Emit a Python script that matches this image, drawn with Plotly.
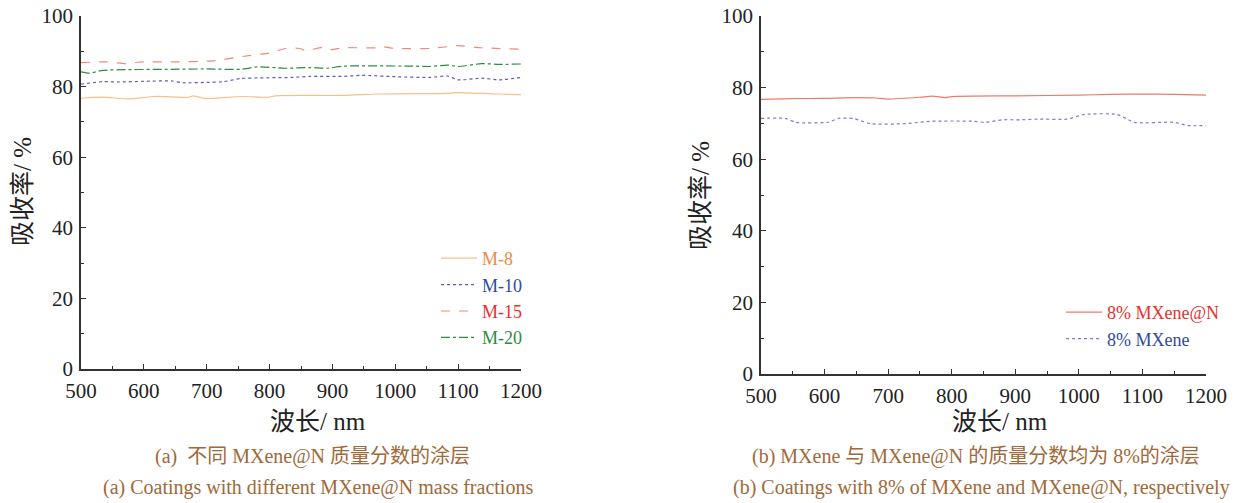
import plotly.graph_objects as go

# ---------- data: panel (a) ----------
wl_m8 = [500, 535, 578, 617, 672, 678, 699, 755, 798, 809, 918, 973, 1083, 1100, 1165, 1200]
m8 = [76.7, 77.0, 76.5, 77.2, 77.0, 77.4, 76.6, 77.2, 77.0, 77.4, 77.5, 77.9, 78.1, 78.3, 77.9, 77.7]

wl_m10 = [500, 535, 562, 600, 644, 661, 700, 727, 755, 836, 864, 918, 946, 1000, 1055, 1083, 1100, 1137, 1165, 1200]
m10 = [80.7, 81.4, 81.3, 81.5, 81.6, 81.1, 81.2, 81.4, 82.3, 82.6, 82.9, 82.9, 83.2, 82.8, 82.6, 83.0, 81.9, 82.4, 81.9, 82.6]

wl_m15 = [500, 540, 578, 589, 650, 710, 760, 800, 825, 848, 858, 884, 897, 918, 973, 979, 1000, 1055, 1083, 1100, 1137, 1200]
m15 = [86.8, 87.0, 86.4, 86.9, 87.0, 87.3, 88.6, 89.5, 90.8, 90.8, 90.2, 91.1, 90.5, 91.0, 91.0, 91.3, 90.8, 90.8, 91.3, 91.6, 91.0, 90.6]

wl_m20 = [500, 513, 535, 645, 699, 755, 781, 825, 864, 891, 918, 1028, 1055, 1083, 1100, 1137, 1165, 1200]
m20 = [84.2, 83.8, 84.6, 84.9, 85.0, 84.9, 85.6, 85.2, 85.4, 85.2, 85.8, 85.8, 85.7, 86.1, 85.7, 86.5, 86.3, 86.4]

# ---------- data: panel (b) ----------
wl_mn = [500, 550, 600, 650, 680, 700, 750, 770, 790, 800, 900, 1000, 1050, 1100, 1150, 1200]
mxene_n = [76.7, 76.9, 77.0, 77.2, 77.1, 76.8, 77.3, 77.6, 77.2, 77.5, 77.7, 77.9, 78.1, 78.2, 78.1, 77.9]

wl_mx = [500, 538, 555, 605, 622, 645, 673, 723, 768, 835, 852, 880, 908, 936, 981, 1009, 1060, 1088, 1150, 1172, 1200]
mxene = [71.4, 71.4, 70.3, 70.3, 71.4, 71.4, 69.9, 69.9, 70.6, 70.6, 70.3, 71.0, 71.0, 71.2, 71.2, 72.5, 72.5, 70.3, 70.3, 69.4, 69.4]

x_ticks = [500, 600, 700, 800, 900, 1000, 1100, 1200]
y_ticks = [0, 20, 40, 60, 80, 100]

SERIF = "Liberation Serif, Noto Sans CJK SC, serif"
BROWN = "#a0693a"

fig = go.Figure()

def add(x, y, name, color, dash, xa, ya, legend, label_color):
    fig.add_trace(go.Scatter(
        x=x, y=y, mode="lines", xaxis=xa, yaxis=ya,
        name=f"<span style='color:{label_color}'>{name}</span>",
        line=dict(color=color, width=1.2, dash=dash, shape="spline", smoothing=0.6),
        legend=legend, hoverinfo="skip"))

add(wl_m8, m8, "M-8", "#f7c08a", "solid", "x", "y", "legend", "#f08a3c")
add(wl_m10, m10, "M-10", "#5a5ad8", "dot", "x", "y", "legend", "#2f4aa0")
add(wl_m15, m15, "M-15", "#f08a78", "dash", "x", "y", "legend", "#e8302c")
add(wl_m20, m20, "M-20", "#2e8b40", "dashdot", "x", "y", "legend", "#2e8b40")

add(wl_mn, mxene_n, "8% MXene@N", "#f07a6a", "solid", "x2", "y2", "legend2", "#e8302c")
add(wl_mx, mxene, "8% MXene", "#7a7ae0", "dot", "x2", "y2", "legend2", "#2f4aa0")

axis_common = dict(
    showline=True, linecolor="#333333", linewidth=1.5, mirror=False,
    ticks="inside", ticklen=5, tickwidth=1.3, tickcolor="#333333",
    showgrid=False, zeroline=False, automargin=False,
    tickfont=dict(family=SERIF, size=21, color="#222222"),
)
minor_x = dict(dtick=50, ticks="inside", ticklen=3, tickwidth=1.2, tickcolor="#333333")
minor_y = dict(dtick=10, ticks="inside", ticklen=3, tickwidth=1.2, tickcolor="#333333")

fig.update_layout(
    width=1239, height=503,
    margin=dict(l=0, r=0, t=0, b=0, autoexpand=False),
    paper_bgcolor="white", plot_bgcolor="white",
    showlegend=True,
    xaxis=dict(domain=[81/1239, 521/1239], range=[500, 1200], tickvals=x_ticks,
               minor=minor_x, anchor="y", ticklabelstandoff=2, **axis_common),
    yaxis=dict(domain=[1-369/503, 1-16/503], range=[0, 100], tickvals=y_ticks,
               minor=minor_y, anchor="x", ticklabelstandoff=2, **axis_common),
    xaxis2=dict(domain=[761/1239, 1206/1239], range=[500, 1200], tickvals=x_ticks,
                minor=minor_x, anchor="y2", ticklabelstandoff=2, **axis_common),
    yaxis2=dict(domain=[1-374/503, 1-16/503], range=[0, 100], tickvals=y_ticks,
                minor=minor_y, anchor="x2", ticklabelstandoff=2, **axis_common),
    legend=dict(x=436/1239, y=1-240/503, xanchor="left", yanchor="top",
                bgcolor="rgba(0,0,0,0)", font=dict(family=SERIF, size=18),
                itemwidth=36, tracegroupgap=0),
    legend2=dict(x=1061/1239, y=1-294/503, xanchor="left", yanchor="top",
                 bgcolor="rgba(0,0,0,0)", font=dict(family=SERIF, size=18),
                 itemwidth=36, tracegroupgap=0),
)

ann = []
def text(x, y, s, size, color="#222222", angle=0):
    ann.append(dict(x=x/1239, y=1-y/503, xref="paper", yref="paper", text=s,
                    showarrow=False, textangle=angle,
                    font=dict(family=SERIF, size=size, color=color),
                    xanchor="center", yanchor="middle"))

text(318, 421, "波长/ nm", 25)
text(1000, 421, "波长/ nm", 25)
text(22, 192, "吸收率/ %", 25, angle=-90)
text(700, 196, "吸收率/ %", 25, angle=-90)
text(312, 456, "(a)  不同 MXene@N 质量分数的涂层", 20, BROWN)
text(318, 487, "(a) Coatings with different MXene@N mass fractions", 20, BROWN)
text(976, 456, "(b) MXene 与 MXene@N 的质量分数均为 8%的涂层", 20, BROWN)
text(981, 487, "(b) Coatings with 8% of MXene and MXene@N, respectively", 20, BROWN)
fig.update_layout(annotations=ann)

fig.write_html("out.html", config={"displayModeBar": False},
               post_script="document.body.style.margin='0';document.body.style.overflow='hidden';")
